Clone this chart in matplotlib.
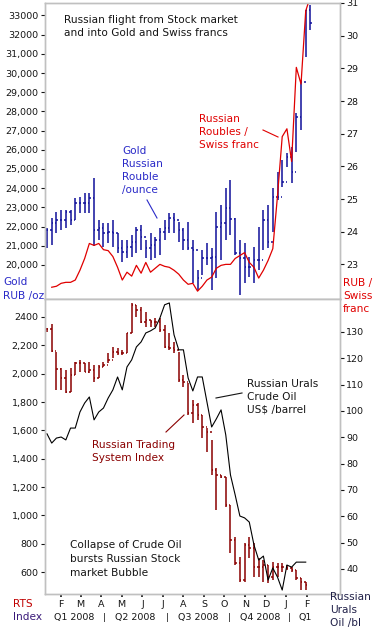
import numpy as np
import pandas as pd
import matplotlib
matplotlib.use('Agg')
import matplotlib.pyplot as plt
import matplotlib.dates as mdates
from matplotlib.lines import Line2D
from matplotlib.transforms import blended_transform_factory

W, H = 381, 627

# weekly bars, Jan 2008 - Feb 2009
weeks = pd.date_range('2008-01-11', periods=57, freq='7D')

# gold in roubles per ounce (high / low / close)
gold_high = [21910, 22431, 22778, 22865, 22865, 22865, 23472, 23559, 23733, 23733,
             24514, 22344, 22170, 22170, 22344, 21649, 21302, 21302, 21562, 21997,
             22083, 21302, 21649, 21476, 21910, 22344, 22691, 22691, 22257, 21910,
             22257, 21302, 19740, 20781, 21146, 20885, 22760, 23125, 24010, 24427,
             22448, 21302, 21146, 20417, 20937, 21979, 22864, 23125, 24010, 24843,
             25468, 25833, 26146, 27916, 29635, 33281, 33541]
gold_low = [20868, 21042, 21649, 21823, 21910, 22083, 22344, 22691, 22691, 22691,
            21000, 21302, 20955, 21128, 20955, 20608, 20174, 20347, 20434, 20608,
            20781, 20347, 20260, 20347, 20521, 21302, 21649, 21649, 21215, 20781,
            20781, 19063, 18698, 19479, 20000, 18698, 19323, 20260, 21302, 21562,
            20521, 18438, 19063, 19375, 19063, 19740, 20781, 20885, 21719, 23385,
            24062, 25104, 24271, 25885, 27031, 30833, 32239]
gold_close = [21823, 22170, 22344, 22344, 22778, 22344, 23212, 23212, 23212, 23472,
              21823, 21910, 21649, 21736, 21649, 20868, 20694, 20955, 21215, 21823,
              21476, 20868, 21042, 21302, 21736, 21910, 22431, 22344, 21823, 21302,
              20868, 20781, 19323, 20365, 20365, 20417, 21979, 22187, 22969, 22396,
              20600, 20365, 19896, 19896, 20260, 20260, 22344, 21198, 23541, 23541,
              24323, 25625, 24843, 27708, 29531, 33281, 32604]

# roubles per Swiss franc (from week 2)
rub_chf = [22.30, 22.33, 22.42, 22.45, 22.45, 22.52, 22.82, 23.18, 23.64, 23.58,
           23.64, 23.45, 23.42, 23.24, 22.91, 22.52, 22.76, 22.64, 22.97, 22.73,
           23.06, 22.76, 22.88, 23.00, 22.94, 22.91, 22.82, 22.70, 22.52, 22.39,
           22.42, 22.18, 22.33, 22.52, 22.61, 22.88, 22.97, 23.00, 23.00, 23.18,
           23.27, 23.36, 23.06, 22.91, 22.58, 22.82, 23.12, 23.48, 25.10, 26.91,
           27.15, 26.15, 29.03, 28.52, 30.76, 31.20]

# RTS index weekly bars
rts_high = [2320, 2350, 2155, 2038, 2026, 2038, 2085, 2097, 2073, 2085,
            2061, 2061, 2085, 2144, 2191, 2179, 2167, 2285, 2497, 2485,
            2473, 2437, 2379, 2391, 2391, 2344, 2285, 2226, 2155, 1991,
            1932, 1814, 1793, 1708, 1617, 1532, 1334, 1285, 1271, 1073,
            847, 706, 805, 847, 805, 699, 685, 650, 671, 664,
            664, 650, 636, 615, 558, 530]
rts_low = [2296, 2155, 1885, 1885, 1862, 1873, 1991, 2014, 2014, 2003,
           1944, 1967, 2050, 2073, 2109, 2132, 2132, 2144, 2285, 2402,
           2355, 2332, 2332, 2332, 2296, 2179, 2167, 2144, 1944, 1908,
           1708, 1652, 1673, 1546, 1447, 1285, 1038, 1264, 1059, 735,
           650, 530, 530, 699, 565, 565, 530, 523, 544, 565,
           600, 615, 600, 544, 473, 473]
rts_close = [2315, 2160, 2031, 1967, 1873, 1991, 2073, 2073, 2014, 2026,
             1967, 2050, 2061, 2097, 2155, 2144, 2144, 2285, 2485, 2449,
             2367, 2379, 2367, 2367, 2308, 2191, 2179, 2167, 1955, 1944,
             1720, 1779, 1708, 1624, 1588, 1320, 1285, 1271, 1073, 826,
             664, 544, 791, 770, 636, 636, 650, 565, 636, 636,
             636, 629, 615, 558, 530, 509]

# Russian Urals crude, US$ / barrel
urals = [91.3, 87.8, 89.7, 90.1, 89.0, 93.5, 93.5, 99.6, 103.0, 105.3,
         96.6, 99.6, 101.1, 104.9, 108.0, 112.9, 108.0, 116.7, 119.4, 124.3,
         126.2, 129.6, 130.4, 131.5, 135.3, 140.3, 141.0, 128.9, 123.2, 123.2,
         112.5, 107.6, 112.9, 112.9, 103.4, 93.9, 97.0, 100.4, 90.9, 75.7,
         68.1, 60.1, 59.4, 57.8, 49.1, 43.4, 44.9, 35.8, 40.4, 36.9,
         32.0, 41.5, 40.7, 42.6, 42.6, 42.6]

month_ticks = pd.date_range('2008-02-01', '2009-02-01', freq='MS')
month_labels = ['F', 'M', 'A', 'M', 'J', 'J', 'A', 'S', 'O', 'N', 'D', 'J', 'F']
quarter_labels = ['Q1 2008', '|', 'Q2 2008', '|', 'Q3 2008', '|', 'Q4 2008', '|', 'Q1']
quarter_pos = ['2008-02-20', '2008-04-06', '2008-05-21', '2008-07-08', '2008-08-23',
               '2008-10-08', '2008-11-23', '2009-01-05', '2009-01-29']

GOLD = '#10109a'
RED = '#e00000'
RTS = '#8a0000'
FRAME = '#c0c0c0'
TXT = '#151515'


def fx(x):
  return x / W


def fy(y):
  return 1 - y / H


def ohlc(ax, x, high, low, close, color):
  close = np.asarray(close, dtype=float)
  opens = np.r_[close[0], close[:-1]]
  ax.vlines(x, low, high, color=color, lw=1.1)
  ax.hlines(opens, x - 2, x, color=color, lw=1.1)
  ax.hlines(close, x, x + 2, color=color, lw=1.1)


def label(x, ys, lines, color, size=7.6):
  for y, line in zip(ys, lines):
    fig.text(fx(x), fy(y), line, color=color, fontsize=size, ha='left', va='center')


def pointer(x0, y0, x1, y1, color):
  fig.add_artist(Line2D([fx(x0), fx(x1)], [fy(y0), fy(y1)], color=color, lw=0.8))


def style(ax):
  for s in ax.spines.values():
    s.set_color(FRAME)
    s.set_linewidth(1.0)
  ax.tick_params(axis='y', length=3, width=0.8, color=TXT, labelsize=6.8,
                 labelcolor=TXT, pad=1.5)


x = mdates.date2num(weeks.to_pydatetime())
xlim = mdates.date2num([pd.Timestamp('2008-01-08'), pd.Timestamp('2009-03-22')])

fig = plt.figure(figsize=(W / 100, H / 100), dpi=100)
ax1 = fig.add_axes([fx(45), fy(299), fx(295), 296 / H])
ax1r = ax1.twinx()
ax2 = fig.add_axes([fx(45), fy(594), fx(295), 295 / H])
ax2r = ax2.twinx()

# top panel: gold bars and rouble / franc line
ohlc(ax1, x, gold_high, gold_low, gold_close, GOLD)
ax1r.plot(x[1:], rub_chf, color=RED, lw=0.9)
ax1.set_ylim(18229, 33646)
ax1r.set_ylim(21.94, 30.91)
ax1.set_yticks(range(20000, 34000, 1000))
ax1.set_yticklabels([f'{v}' if v >= 32000 else f'{v:,}' for v in range(20000, 34000, 1000)])
ax1r.set_yticks(range(23, 32))
for a in (ax1, ax1r):
  a.set_xlim(*xlim)
  a.set_xticks([])
  style(a)

# bottom panel: RTS bars and Urals line
ohlc(ax2, x[:len(rts_close)], rts_high, rts_low, rts_close, RTS)
ax2r.plot(x[:len(urals)], urals, color='black', lw=0.8)
ax2.set_ylim(445, 2527)
ax2r.set_ylim(30.5, 142.5)
ax2.set_yticks(range(600, 2600, 200))
ax2.set_yticklabels([f'{v}' if v >= 2400 else f'{v:,}' for v in range(600, 2600, 200)])
ax2r.set_yticks(range(40, 140, 10))
for a in (ax2, ax2r):
  a.set_xlim(*xlim)
  style(a)
ax2.set_xticks(mdates.date2num(month_ticks.to_pydatetime()))
ax2.set_xticklabels(month_labels)
ax2.tick_params(axis='x', length=2, width=1.2, color=TXT, labelsize=6.8,
                labelcolor=TXT, pad=2)
ax2r.tick_params(axis='x', length=0)

tr = blended_transform_factory(ax2.transData, ax2.transAxes)
for pos, q in zip(quarter_pos, quarter_labels):
  ax2.text(mdates.date2num(pd.Timestamp(pos)), -0.081, q, transform=tr,
           ha='center', va='center', fontsize=6.8, color=TXT)

# titles and annotations
label(64, [20, 33], ['Russian flight from Stock market', 'and into Gold and Swiss francs'], TXT)
label(122, [151, 164, 177, 190], ['Gold', 'Russian', 'Rouble', '/ounce'], '#2a2ac8')
pointer(147, 200, 157, 218, '#2a2ac8')
label(199, [119, 132, 145], ['Russian', 'Roubles /', 'Swiss franc'], RED)
pointer(263, 130, 278, 137, RED)
label(247, [384, 397, 410], ['Russian Urals', 'Crude Oil', 'US$ /barrel'], TXT)
pointer(216, 398, 242, 393, TXT)
label(92, [445, 458], ['Russian Trading', 'System Index'], RTS)
pointer(166, 432, 184, 415, RTS)
label(70, [545, 559, 573], ['Collapse of Crude Oil', 'bursts Russian Stock', 'market Bubble'], TXT)

label(3, [282, 296], ['Gold', 'RUB /oz'], '#2a2ac8')
label(343, [283, 296, 309], ['RUB /', 'Swiss', 'franc'], RED)
label(13, [604], ['RTS'], '#c00000')
label(13, [617], ['Index'], '#3a1a7a')
label(330, [597, 610, 623], ['Russian', 'Urals', 'Oil /bl'], '#202048')

fig.savefig('out.png', dpi=100)
